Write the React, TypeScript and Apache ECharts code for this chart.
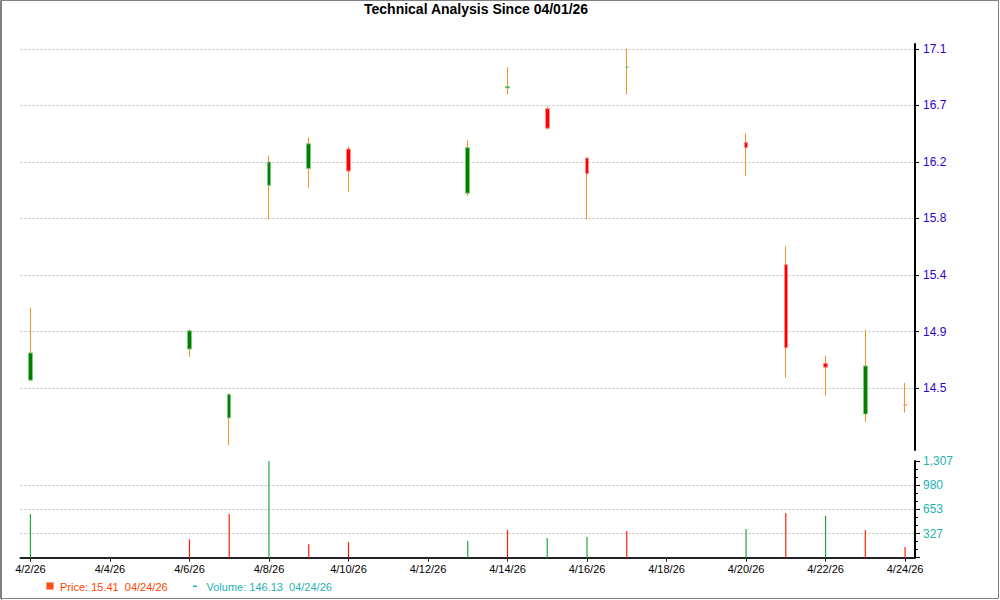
import { useEffect, useRef } from 'react';
import * as echarts from 'echarts';

const tradeDates = ['4/2/26', '4/6/26', '4/7/26', '4/8/26', '4/9/26', '4/10/26', '4/13/26', '4/14/26', '4/15/26', '4/16/26', '4/17/26', '4/20/26', '4/21/26', '4/22/26', '4/23/26', '4/24/26'];
const openPrices = [14.56, 14.8, 14.27, 16.06, 16.19, 16.34, 16.0, 16.81, 16.65, 16.27, 16.97, 16.39, 15.45, 14.69, 14.3, 14.37];
const closePrices = [14.77, 14.94, 14.45, 16.24, 16.38, 16.17, 16.35, 16.82, 16.5, 16.15, 16.97, 16.35, 14.81, 14.66, 14.67, 14.37];
const lowPrices = [14.56, 14.74, 14.06, 15.8, 16.04, 16.01, 15.98, 16.76, 16.49, 15.8, 16.76, 16.13, 14.58, 14.44, 14.24, 14.31];
const highPrices = [15.12, 14.95, 14.46, 16.29, 16.43, 16.36, 16.41, 16.97, 16.67, 16.28, 17.11, 16.46, 15.59, 14.75, 14.95, 14.54];
const volumes = [590, 249, 590, 1306.8, 181, 212, 226, 374, 266, 280, 361, 388, 604, 564, 374, 146.13];
const volumeUp = [true, false, false, true, false, false, true, false, true, true, false, true, false, true, false, false];

// axis labels
const dayLabels = ['4/2/26', '4/4/26', '4/6/26', '4/8/26', '4/10/26', '4/12/26', '4/14/26', '4/16/26', '4/18/26', '4/20/26', '4/22/26', '4/24/26'];
const priceTicks = [14.5, 14.935, 15.37, 15.805, 16.24, 16.675, 17.11];
const volumeMax = 1306.8;

const titleText = 'Technical Analysis Since 04/01/26';
const legendPrice = 'Price: 15.41\u00a0 04/24/26';
const legendVolume = 'Volume: 146.13\u00a0 04/24/26';

const FONT = '"Liberation Sans", Arial, sans-serif';
const WICK = '#f7941d';
const UP = '#008000';
const DOWN = '#ff0000';

// days since 4/2
const dayIndex = (d: string) => Number(d.split('/')[1]) - 2;

export default function App() {
  const chartRef = useRef<HTMLDivElement>(null);

  useEffect(() => {
    if (!chartRef.current) return;
    const chart = echarts.init(chartRef.current, null, { renderer: 'svg' });

    const xs = tradeDates.map(dayIndex);
    const tickDays = dayLabels.map(dayIndex);
    const wickData = xs.map((x, i) => [x, openPrices[i], closePrices[i], lowPrices[i], highPrices[i]]);
    const bodyData = xs.map((x, i) => [
      x,
      openPrices[i],
      closePrices[i],
      Math.min(openPrices[i], closePrices[i]),
      Math.max(openPrices[i], closePrices[i]),
    ]);
    const volumeData = xs.map((x, i) => [x, volumes[i]]);

    const gridLine = { show: true, lineStyle: { color: '#bdbdbd', width: 1, type: [2, 2] as any } };

    const option: echarts.EChartsOption = {
      animation: false,
      backgroundColor: '#ffffff',
      textStyle: { fontFamily: FONT },
      title: {
        text: titleText,
        left: 364,
        top: 2,
        padding: 0,
        textStyle: { fontSize: 14, fontWeight: 'bold', color: '#000', fontFamily: FONT },
      },
      grid: [
        { left: 20.5, right: 85, top: 44, bottom: 150 },
        { left: 20.5, right: 85, top: 461, bottom: 42.3 },
      ],
      xAxis: [
        { type: 'value', gridIndex: 0, min: -0.25, max: 22.25, show: false },
        {
          type: 'value',
          gridIndex: 1,
          min: -0.25,
          max: 22.25,
          axisLine: { show: true, onZero: false, lineStyle: { color: '#222', width: 2 } },
          axisTick: { show: true, length: 4, customValues: tickDays, lineStyle: { color: '#222' } },
          axisLabel: {
            customValues: tickDays,
            formatter: (v: number) => dayLabels[tickDays.indexOf(Math.round(v))] ?? '',
            color: '#000',
            fontSize: 11,
            margin: 6,
            fontFamily: FONT,
          },
          splitLine: { show: false },
        },
      ],
      yAxis: [
        {
          type: 'value',
          gridIndex: 0,
          position: 'right',
          min: 14.023,
          max: 17.148,
          axisLine: { show: true, onZero: false, lineStyle: { color: '#000', width: 2 } },
          axisTick: { show: true, length: 4, customValues: priceTicks, lineStyle: { color: '#000' } },
          axisLabel: {
            customValues: priceTicks,
            formatter: (v: number) => v.toFixed(1),
            color: '#3300cc',
            fontSize: 12,
            margin: 8,
            fontFamily: FONT,
          },
          splitLine: gridLine,
        },
        {
          type: 'value',
          gridIndex: 1,
          position: 'right',
          min: 0,
          max: volumeMax,
          interval: volumeMax / 4,
          axisLine: { show: true, onZero: false, lineStyle: { color: '#000', width: 2 } },
          axisTick: { show: true, length: 5, lineStyle: { color: '#000' } },
          minorTick: { show: true, splitNumber: 3, length: 3, lineStyle: { color: '#000' } },
          axisLabel: {
            formatter: (v: number) => (v === 0 ? '' : Math.round(v).toLocaleString('en-US')),
            color: '#1fb2b2',
            fontSize: 12,
            margin: 8,
            fontFamily: FONT,
          },
          splitLine: { ...gridLine, showMinLine: false, showMaxLine: false } as any,
        },
      ],
      series: [
        {
          name: 'wick',
          type: 'candlestick',
          xAxisIndex: 0,
          yAxisIndex: 0,
          barWidth: 1,
          data: wickData,
          itemStyle: { color: WICK, color0: WICK, borderColor: WICK, borderColor0: WICK, borderWidth: 1 },
          silent: true,
        },
        {
          name: 'Price',
          type: 'candlestick',
          xAxisIndex: 0,
          yAxisIndex: 0,
          barWidth: 4,
          data: bodyData,
          itemStyle: {
            color: UP,
            color0: DOWN,
            borderColor: '#7fc97f',
            borderColor0: '#ff8a8a',
            borderWidth: 1,
          },
        },
        {
          name: 'Volume',
          type: 'bar',
          xAxisIndex: 1,
          yAxisIndex: 1,
          barWidth: 1.2,
          data: volumeData,
          itemStyle: {
            color: (p: any) => (volumeUp[p.dataIndex] ? '#1fa83a' : '#ff2200'),
          },
        },
      ],
      graphic: [
        {
          type: 'rect',
          silent: true,
          shape: { x: 0.5, y: 0.5, width: 998, height: 598 },
          style: { fill: 'none', stroke: '#808080', lineWidth: 1 },
        },
        {
          type: 'line',
          silent: true,
          shape: { x1: 1.5, y1: 0, x2: 1.5, y2: 600 },
          style: { stroke: '#808080', lineWidth: 1 },
        },
        {
          type: 'rect',
          shape: { x: 46.5, y: 582.5, width: 7, height: 7 },
          style: { fill: '#ff4a1c', stroke: '#ff9a7a', lineWidth: 1 },
        },
        {
          type: 'text',
          x: 60,
          y: 586.5,
          style: { text: legendPrice, fill: '#ff4500', font: `11px ${FONT}`, verticalAlign: 'middle' },
        },
        {
          type: 'rect',
          shape: { x: 193, y: 585.5, width: 4, height: 1.5 },
          style: { fill: '#1fb2b2' },
        },
        {
          type: 'text',
          x: 206.5,
          y: 586.5,
          style: { text: legendVolume, fill: '#1fb2b2', font: `11px ${FONT}`, verticalAlign: 'middle' },
        },
      ],
    };

    chart.setOption(option);

    return () => {
      chart.dispose();
    };
  }, []);

  return (
    <div
      ref={chartRef}
      style={{ position: 'fixed', left: 0, top: 0, width: 1000, height: 600, background: '#fff' }}
    />
  );
}
